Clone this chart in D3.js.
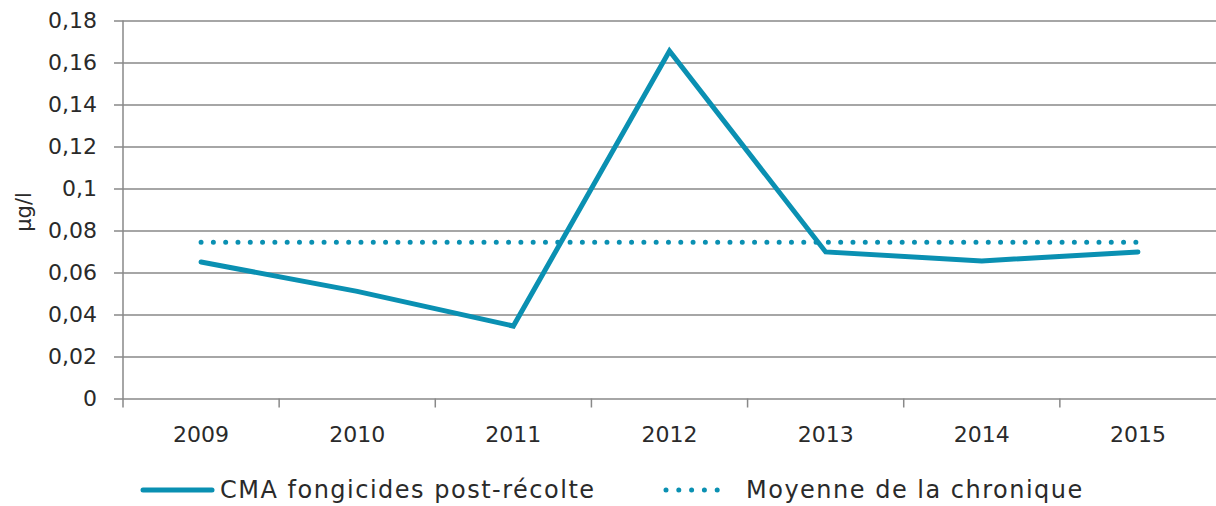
<!DOCTYPE html>
<html lang="fr">
<head>
<meta charset="utf-8">
<title>CMA fongicides post-récolte</title>
<script src="https://cdn.jsdelivr.net/npm/d3@7"></script>
<style>
  body { margin: 0; background: #fff; }
  svg text { font-family: "DejaVu Sans", sans-serif; fill: #2a2a2a; }
</style>
</head>
<body>
<svg id="chart" width="1216" height="506"></svg>
<script>
// data
var years = ["2009", "2010", "2011", "2012", "2013", "2014", "2015"];
var cma = [0.065, 0.051, 0.0345, 0.1655, 0.0698, 0.0655, 0.0698];
var moyenne = 0.0744;
var yTicks = [0, 0.02, 0.04, 0.06, 0.08, 0.1, 0.12, 0.14, 0.16, 0.18];
var seriesNames = ["CMA fongicides post-récolte", "Moyenne de la chronique"];

var teal = "#0a90b2";
var grid = "#898989";

var svg = d3.select("#chart");
var plotLeft = 123, plotRight = 1216, plotTop = 20.5, plotBottom = 398.5;

var x = d3.scaleBand().domain(years).range([plotLeft, plotRight]);
var y = d3.scaleLinear().domain([0, 0.18]).range([plotBottom, plotTop]);
var fmt = function(d) { return String(d).replace(".", ","); };

// horizontal gridlines + y ticks
var yAxis = d3.axisLeft(y)
    .tickValues(yTicks)
    .tickFormat(fmt)
    .tickSize(-(plotRight - plotLeft))
    .tickSizeOuter(0);
var gy = svg.append("g").attr("transform", "translate(" + plotLeft + ",0)").call(yAxis);
gy.select(".domain").remove();
gy.selectAll(".tick line")
    .attr("x1", -9)
    .attr("stroke", grid)
    .attr("stroke-width", 1.5);
gy.selectAll(".tick text")
    .attr("x", -26)
    .attr("font-size", "22px")
    .attr("font-family", "DejaVu Sans");

// vertical axis line
svg.append("line")
    .attr("x1", plotLeft).attr("x2", plotLeft)
    .attr("y1", plotTop).attr("y2", plotBottom + 9)
    .attr("stroke", grid).attr("stroke-width", 1.5);

// x axis
var xAxis = d3.axisBottom(x).tickSize(0).tickSizeOuter(0);
var gx = svg.append("g").attr("transform", "translate(0," + plotBottom + ")").call(xAxis);
gx.select(".domain").remove();
gx.selectAll(".tick text")
    .attr("y", 28)
    .attr("dy", "0.71em")
    .attr("font-size", "22px")
    .attr("font-family", "DejaVu Sans");
// category separators
svg.append("g").selectAll("line")
    .data(years.slice(1))
    .enter()
    .append("line")
    .attr("x1", function(d) { return x(d); })
    .attr("x2", function(d) { return x(d); })
    .attr("y1", plotBottom)
    .attr("y2", plotBottom + 9)
    .attr("stroke", grid)
    .attr("stroke-width", 1.5);

// y label
svg.append("text")
    .attr("transform", "translate(31,212) rotate(-90)")
    .attr("text-anchor", "middle")
    .attr("font-size", "21px")
    .text("µg/l");

var cx = function(d) { return x(d) + x.bandwidth() / 2; };

// mean line (dotted)
svg.append("line")
    .attr("x1", cx(years[0]))
    .attr("x2", cx(years[years.length - 1]))
    .attr("y1", y(moyenne))
    .attr("y2", y(moyenne))
    .attr("stroke", teal)
    .attr("stroke-width", 5)
    .attr("stroke-linecap", "round")
    .attr("stroke-dasharray", "0 12.3");

// CMA line
var line = d3.line()
    .x(function(d, i) { return cx(years[i]); })
    .y(function(d) { return y(d); });
svg.append("path")
    .datum(cma)
    .attr("d", line)
    .attr("fill", "none")
    .attr("stroke", teal)
    .attr("stroke-width", 5)
    .attr("stroke-linejoin", "miter")
    .attr("stroke-linecap", "round");

// legend
var leg = svg.append("g");
leg.append("line")
    .attr("x1", 143).attr("x2", 212)
    .attr("y1", 490).attr("y2", 490)
    .attr("stroke", teal).attr("stroke-width", 5)
    .attr("stroke-linecap", "round");
leg.append("text")
    .attr("x", 220).attr("y", 490).attr("dy", "0.35em")
    .attr("font-size", "24px")
    .attr("letter-spacing", "1.5px")
    .text(seriesNames[0]);
leg.append("line")
    .attr("x1", 666).attr("x2", 730)
    .attr("y1", 490).attr("y2", 490)
    .attr("stroke", teal).attr("stroke-width", 5)
    .attr("stroke-linecap", "round")
    .attr("stroke-dasharray", "0 12.8");
leg.append("text")
    .attr("x", 746).attr("y", 490).attr("dy", "0.35em")
    .attr("font-size", "24px")
    .attr("letter-spacing", "1.5px")
    .text(seriesNames[1]);
</script>
</body>
</html>
